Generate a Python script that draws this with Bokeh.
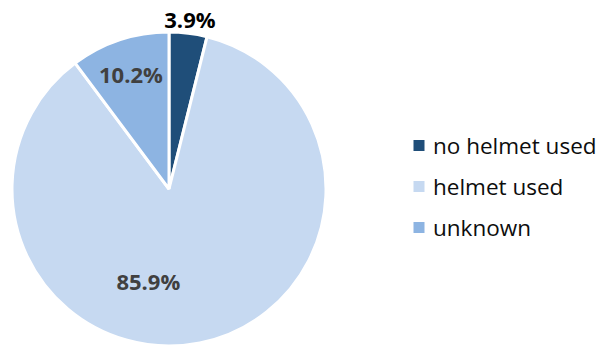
import math
from bokeh.plotting import figure
from bokeh.models import Range1d, ColumnDataSource
from bokeh.core.properties import value
from bokeh.embed import file_html
from bokeh.resources import INLINE

categories = ["no helmet used", "helmet used", "unknown"]
shares = [3.9, 85.9, 10.2]
colors = ["#1F4E79", "#C6D9F1", "#8DB4E2"]
label_colors = ["#000000", "#404040", "#404040"]
# label placement: radius factor and angle offset (deg) from slice middle
label_r = [1.09, 0.60, 0.77]
label_da = [0.0, -24.0, 0.0]

W, H = 597, 346
cx, cy, R = 168.5, H - 188.5, 157.0

total = sum(shares)
starts, ends, mids = [], [], []
acc = 0.0
for s in shares:
    a0 = math.pi / 2 - acc / total * 2 * math.pi
    acc += s
    a1 = math.pi / 2 - acc / total * 2 * math.pi
    starts.append(a0)
    ends.append(a1)
    mids.append((a0 + a1) / 2)

p = figure(width=W, height=H, output_backend="svg", toolbar_location=None,
           x_range=Range1d(0, W), y_range=Range1d(0, H), min_border=0)
p.axis.visible = False
p.grid.visible = False
p.outline_line_color = None
p.background_fill_color = "white"

src = ColumnDataSource(dict(start=ends, end=starts, color=colors))
p.wedge(x=cx, y=cy, radius=R, start_angle="start", end_angle="end",
        fill_color="color", line_color="white", line_width=3, source=src)

lx, ly, lt = [], [], []
for i, s in enumerate(shares):
    a = mids[i] + math.radians(label_da[i])
    lx.append(cx + R * label_r[i] * math.cos(a))
    ly.append(cy + R * label_r[i] * math.sin(a))
    lt.append(f"{s:.1f}%")
p.text(x=lx, y=ly, text=lt, text_color=label_colors, text_font=value("Open Sans"),
       text_font_style="bold", text_font_size="22px", text_align="center",
       text_baseline="middle")

# legend
leg_x = 418.5
leg_y0 = H - 145
leg_dy = 41
sq_y = [leg_y0 - i * leg_dy for i in range(len(categories))]
p.scatter(x=[leg_x] * len(categories), y=sq_y, marker="square", size=11,
          fill_color=colors, line_color=None)
p.text(x=[leg_x + 14] * len(categories), y=sq_y, text=categories,
       text_color="#0d0d0d", text_font=value("Open Sans"), text_font_size="22.5px",
       text_align="left", text_baseline="middle")

open("out.html", "w").write(file_html(p, INLINE))
